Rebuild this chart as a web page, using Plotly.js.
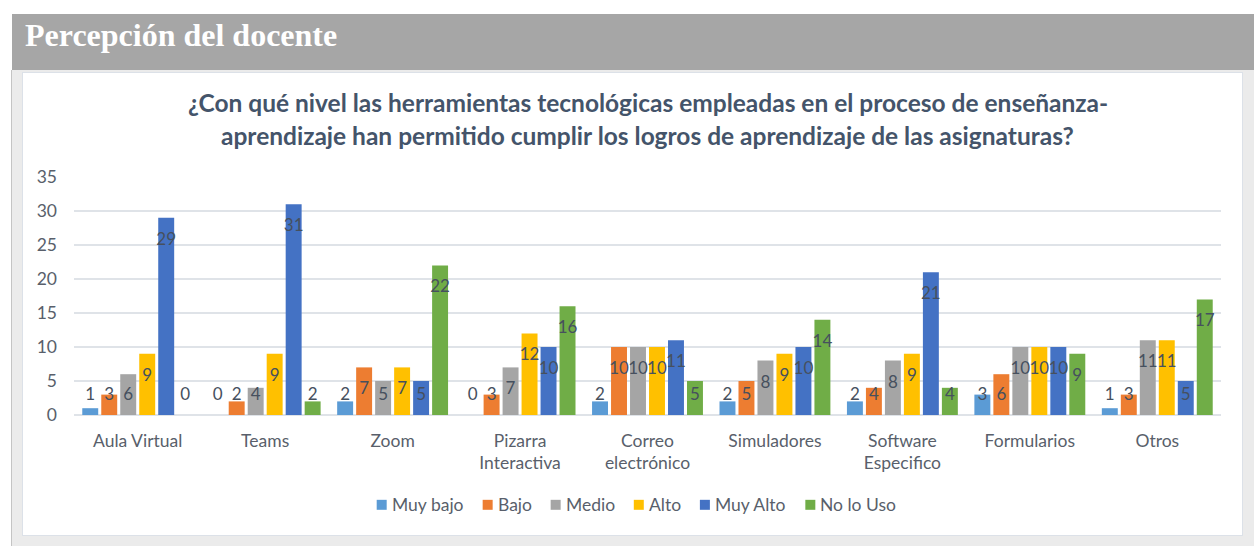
<!DOCTYPE html>
<html>
<head>
<meta charset="utf-8">
<script src="https://cdn.plot.ly/plotly-3.0.1.min.js"></script>
<style>
  html, body { margin: 0; padding: 0; background: #ffffff; width: 1254px; height: 546px; overflow: hidden; }
  #header { position: absolute; left: 12px; top: 14px; width: 1242px; height: 56px; background: #A6A6A6; }
  #header span { position: absolute; left: 13px; top: 3px; font-family: "Liberation Serif", serif; font-weight: bold; font-size: 32px; color: #ffffff; }
  #frame { position: absolute; left: 11px; top: 70px; width: 1243px; height: 476px; background: #EBEBEB; border-left: 1px solid #C4C4C4; }
  #chart { position: absolute; left: 22px; top: 72px; width: 1219px; height: 462px; background: #ffffff; border: 1px solid #DCE1E8; }
</style>
</head>
<body>
<div id="header"><span>Percepción del docente</span></div>
<div id="frame"></div>
<div id="chart"></div>
<script>
const categories = ["Aula Virtual", "Teams", "Zoom", "Pizarra<br>Interactiva", "Correo<br>electrónico", "Simuladores", "Software<br>Especifico", "Formularios", "Otros"];
const seriesNames = ["Muy bajo", "Bajo", "Medio", "Alto", "Muy Alto", "No lo Uso"];
const seriesColors = ["#5B9BD5", "#ED7D31", "#A5A5A5", "#FFC000", "#4472C4", "#70AD47"];
const muyBajo  = [1, 0, 2, 0, 2, 2, 2, 3, 1];
const bajo     = [3, 2, 7, 3, 10, 5, 4, 6, 3];
const medio    = [6, 4, 5, 7, 10, 8, 8, 10, 11];
const alto     = [9, 9, 7, 12, 10, 9, 9, 10, 11];
const muyAlto  = [29, 31, 5, 10, 11, 10, 21, 10, 5];
const noLoUso  = [0, 2, 22, 16, 5, 14, 4, 9, 17];
const seriesValues = [muyBajo, bajo, medio, alto, muyAlto, noLoUso];
const titleLines = ["¿Con qué nivel las herramientas tecnológicas empleadas en el proceso de enseñanza-", "aprendizaje han permitido cumplir los logros de aprendizaje de las asignaturas?"];

const W = 1219, H = 462;
const M = {l: 51, r: 21, t: 103.5, b: 120};
const plotW = W - M.l - M.r, plotH = H - M.t - M.b;
const bargap = 0.106;
const nS = seriesNames.length;
const baseFont = "Lato, 'Open Sans', sans-serif";
const textColor = "#595F6B";
const labelFont = {family: baseFont, size: 17, color: "#46505E"};

const traces = [];
seriesNames.forEach((name, j) => {
  traces.push({
    type: "bar", name: name, x: categories, y: seriesValues[j],
    marker: {color: seriesColors[j]}, showlegend: false,
    hoverinfo: "skip"
  });
});
// data labels, positioned from the same values on an overlaid numeric axis
seriesNames.forEach((name, j) => {
  const gw = 1 - bargap;
  const xs = categories.map((c, i) => i - gw / 2 + (j + 0.5) * gw / nS);
  const ys = seriesValues[j].map(v => Math.max(v - 3.35, 2.8));
  traces.push({
    type: "scatter", mode: "text", x: xs, y: ys, xaxis: "x2",
    text: seriesValues[j].map(String), textposition: "middle center",
    textfont: labelFont, showlegend: false, hoverinfo: "skip", cliponaxis: false
  });
});

// legend drawn as small squares + text, laid out from measured text widths
const legendFontSize = 17.5;
const ctx = document.createElement("canvas").getContext("2d");
ctx.font = legendFontSize + "px Lato";
const sq = 10, sqGap = 4, itemGap = 20;
const widths = seriesNames.map(n => ctx.measureText(n).width);
const totalW = widths.reduce((a, w) => a + sq + sqGap + w, 0) + itemGap * (nS - 1);
const legendCenterX = 613;   // px within the chart div
const legendCenterY = 432;   // px within the chart div
const toPX = px => (px - M.l) / plotW;
const toPY = py => (H - M.b - py) / plotH;
const shapes = [], legendAnns = [];
let cx = legendCenterX - totalW / 2;
seriesNames.forEach((name, j) => {
  shapes.push({type: "rect", xref: "paper", yref: "paper",
    x0: toPX(cx), x1: toPX(cx + sq), y0: toPY(legendCenterY + sq / 2), y1: toPY(legendCenterY - sq / 2),
    fillcolor: seriesColors[j], line: {width: 0}});
  legendAnns.push({text: name, xref: "paper", yref: "paper", x: toPX(cx + sq + sqGap), xanchor: "left",
    y: toPY(legendCenterY), yanchor: "middle", showarrow: false, xshift: -1,
    font: {family: baseFont, size: legendFontSize, color: textColor}});
  cx += sq + sqGap + widths[j] + itemGap;
});

const layout = {
  width: W, height: H,
  margin: M,
  paper_bgcolor: "#ffffff", plot_bgcolor: "#ffffff",
  barmode: "group", bargap: bargap, bargroupgap: 0.16,
  font: {family: baseFont, color: textColor},
  showlegend: false,
  xaxis: {
    type: "category", showgrid: false, zeroline: false, showline: false,
    ticks: "", tickfont: {size: 17.5, color: textColor}, ticklabelstandoff: 13,
    fixedrange: true
  },
  xaxis2: {
    overlaying: "x", range: [-0.5, categories.length - 0.5], visible: false, fixedrange: true
  },
  yaxis: {
    range: [0, 35], dtick: 5, showgrid: true, gridcolor: "#DFE3E8", gridwidth: 1.5,
    zeroline: true, zerolinecolor: "#DFE3E8", zerolinewidth: 1.5, showline: false,
    ticks: "", tickfont: {size: 17.5, color: textColor}, ticklabelstandoff: 16, fixedrange: true
  },
  shapes: shapes,
  annotations: [
    {text: "<b>" + titleLines[0] + "</b>", xref: "paper", yref: "paper", x: 0.5, xanchor: "center",
     y: toPY(29), yanchor: "middle", showarrow: false,
     font: {family: baseFont, size: 24.5, color: "#44546A"}},
    {text: "<b>" + titleLines[1] + "</b>", xref: "paper", yref: "paper", x: 0.5, xanchor: "center",
     y: toPY(62), yanchor: "middle", showarrow: false,
     font: {family: baseFont, size: 24.5, color: "#44546A"}}
  ].concat(legendAnns)
};

Plotly.newPlot("chart", traces, layout, {displayModeBar: false, staticPlot: true});
</script>
</body>
</html>
